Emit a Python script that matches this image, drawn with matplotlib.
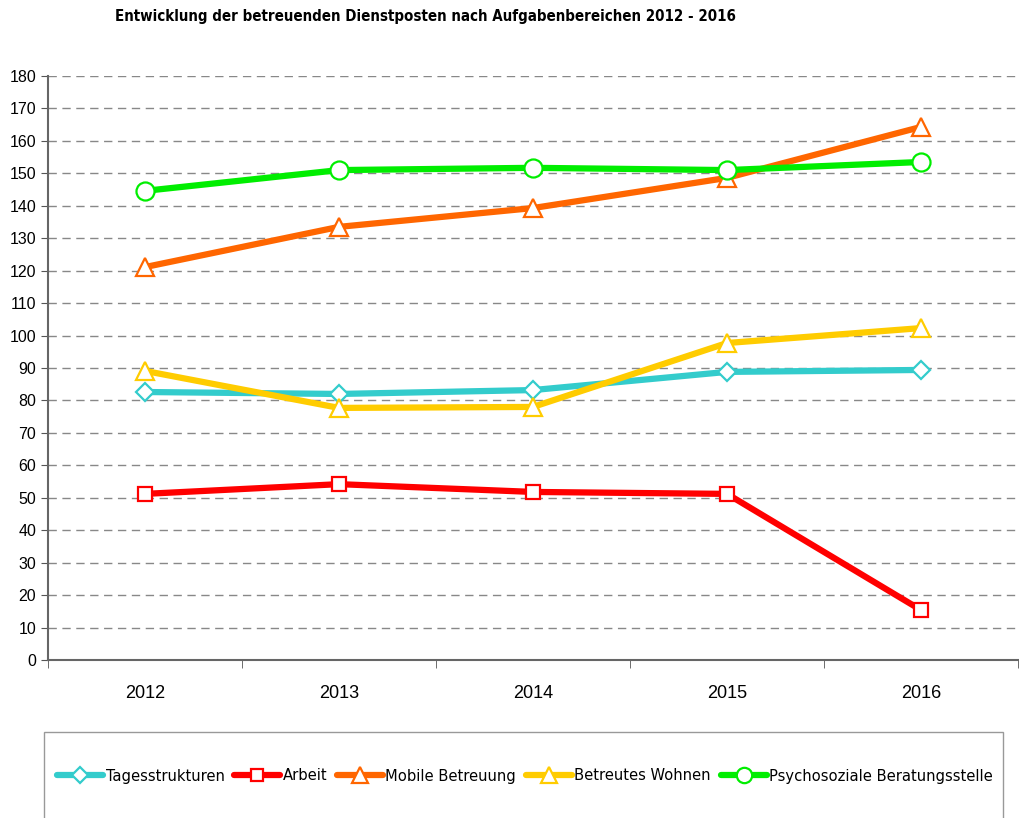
import matplotlib
matplotlib.use("Agg")
import matplotlib.pyplot as plt
from matplotlib.lines import Line2D
from matplotlib.patches import Rectangle

years = ["2012", "2013", "2014", "2015", "2016"]
tagesstrukturen = [82.6, 82.0, 83.2, 88.8, 89.4]
arbeit = [51.2, 54.2, 51.8, 51.2, 15.4]
mobile = [121.1, 133.5, 139.3, 148.6, 164.3]
wohnen = [89.1, 77.7, 78.0, 97.7, 102.3]
psycho = [144.6, 151.0, 151.7, 151.0, 153.5]

series = [
    ("Tagesstrukturen", tagesstrukturen, "#33CCCC", "D", 9),
    ("Arbeit", arbeit, "#FF0000", "s", 10),
    ("Mobile Betreuung", mobile, "#FF6600", "^", 13),
    ("Betreutes Wohnen", wohnen, "#FFCC00", "^", 13),
    ("Psychosoziale Beratungsstelle", psycho, "#00EE00", "o", 13),
]

fig = plt.figure(figsize=(10.19, 8.18), dpi=100)
ax = fig.add_axes([48/1019, 1-660/818, (1018-48)/1019, (660-76)/818])

x = list(range(len(years)))
handles = []
for name, vals, col, mk, ms in series:
    ax.plot(x, vals, color=col, lw=4.5, solid_capstyle="round", zorder=3)
    ax.plot(x, vals, linestyle="none", marker=mk, ms=ms, mfc="white", mec=col, mew=1.6, zorder=4)
    handles.append(Line2D([], [], color=col, lw=4.5, marker=mk, ms=ms*0.85, mfc="white", mec=col, mew=1.6,
                          solid_capstyle="round", label=name))

ax.set_xlim(-0.5, 4.5)
ax.set_ylim(0, 180)
ax.set_yticks(range(0, 181, 10))
ax.set_xticks(x)
ax.set_xticklabels(years, fontsize=13, family="Liberation Sans")
ax.set_xticks([i + 0.5 for i in range(-1, 5)], minor=True)
ax.tick_params(axis="x", which="major", length=0, pad=18)
ax.tick_params(axis="x", which="minor", length=6, direction="out", color="#555555")
ax.tick_params(axis="y", length=5, direction="out", color="#555555", labelsize=11.5)
for lbl in ax.get_yticklabels():
    lbl.set_family("Liberation Sans")
ax.yaxis.grid(True, linestyle=(0, (6, 4)), color="#888888", lw=1)
ax.set_axisbelow(True)
for s in ["top", "right"]:
    ax.spines[s].set_visible(False)
ax.spines["left"].set_color("#666666")
ax.spines["bottom"].set_color("#666666")
ax.spines["left"].set_linewidth(1.5)
ax.spines["bottom"].set_linewidth(1.5)

fig.text(115/1019, 1-16/818, "Entwicklung der betreuenden Dienstposten nach Aufgabenbereichen 2012 - 2016",
         fontsize=10.8, fontweight="bold", family="DejaVu Sans", fontstretch="condensed",
         ha="left", va="center")

fig.patches.append(Rectangle((44/1019, -0.01), (1003-44)/1019, (818-732)/818 + 0.01,
                             transform=fig.transFigure, fill=False, edgecolor="#999999", lw=1))
leg = fig.legend(handles=handles, loc="center", bbox_to_anchor=(525/1019, 1-776/818), ncol=5,
                 frameon=False, handlelength=2.8, handletextpad=0.15, columnspacing=0.6,
                 prop={"family": "DejaVu Sans", "stretch": "condensed", "size": 11.8})

fig.savefig("out.png", dpi=100)
